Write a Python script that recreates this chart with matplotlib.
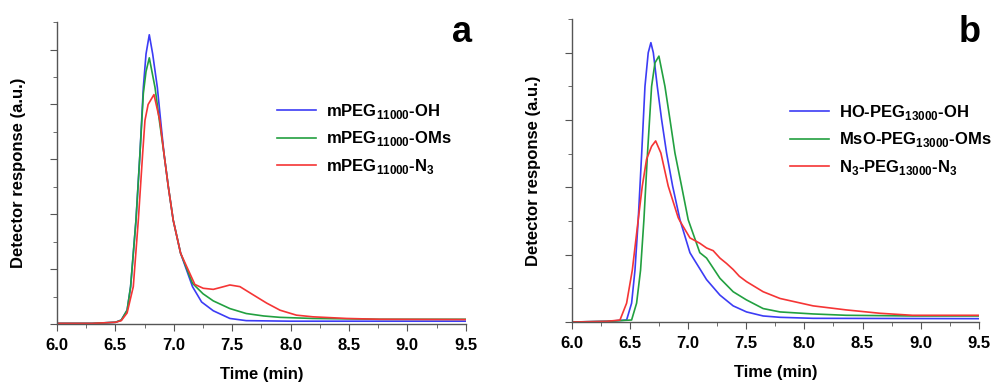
import numpy as np
import matplotlib.pyplot as plt
from matplotlib.ticker import MultipleLocator

# panel a : mPEG11000 series (time in min, response in a.u.)
t_a_oh = [6.0, 6.3, 6.5, 6.55, 6.6, 6.63, 6.676, 6.71, 6.739, 6.762, 6.79, 6.819, 6.859, 6.887,
          6.916, 6.953, 6.995, 7.058, 7.16, 7.238, 7.338, 7.48, 7.62, 8.0, 9.0, 9.5]
y_a_oh = [0.01, 0.01, 0.03, 0.07, 0.25, 0.68, 1.89, 3.1, 4.31, 4.92, 5.27, 4.92, 4.31, 3.71,
          3.1, 2.5, 1.89, 1.29, 0.68, 0.4, 0.24, 0.1, 0.06, 0.05, 0.05, 0.05]
t_a_oms = [6.0, 6.3, 6.5, 6.55, 6.6, 6.63, 6.676, 6.71, 6.739, 6.762, 6.79, 6.839, 6.876,
           6.916, 6.953, 6.995, 7.058, 7.16, 7.25, 7.338, 7.48, 7.62, 7.77, 7.91, 8.19, 8.76,
           9.5]
y_a_oms = [0.01, 0.01, 0.03, 0.07, 0.25, 0.68, 1.89, 3.1, 4.2, 4.6, 4.85, 4.31, 3.71,
           3.1, 2.5, 1.89, 1.29, 0.74, 0.55, 0.42, 0.28, 0.19, 0.145, 0.12, 0.1, 0.085,
           0.085]
t_a_n3 = [6.0, 6.3, 6.5, 6.55, 6.6, 6.653, 6.696, 6.733, 6.753, 6.78, 6.83, 6.88, 6.916,
          6.953, 6.995, 7.058, 7.18, 7.252, 7.338, 7.41, 7.48, 7.566, 7.68, 7.795, 7.91,
          8.05, 8.19, 8.48, 8.76, 9.5]
y_a_n3 = [0.01, 0.01, 0.03, 0.06, 0.2, 0.68, 1.89, 3.1, 3.71, 4.0, 4.18, 3.71, 3.1,
          2.5, 1.89, 1.29, 0.72, 0.65, 0.63, 0.67, 0.71, 0.68, 0.53, 0.38, 0.25,
          0.16, 0.13, 0.1, 0.085, 0.08]

# panel b : PEG13000 series
t_b_oh = [6.0, 6.3, 6.47, 6.513, 6.542, 6.57, 6.6, 6.628, 6.656, 6.679, 6.70, 6.734, 6.771,
          6.814, 6.866, 6.929, 7.015, 7.043, 7.158, 7.273, 7.387, 7.502, 7.645, 7.79, 8.075,
          9.5]
y_b_oh = [0.0, 0.01, 0.03, 0.28, 0.77, 1.52, 2.51, 3.5, 4.0, 4.15, 4.0, 3.5, 3.01,
          2.51, 2.02, 1.52, 1.03, 0.95, 0.63, 0.4, 0.24, 0.15, 0.09, 0.07, 0.055, 0.05]
t_b_oms = [6.0, 6.3, 6.513, 6.556, 6.59, 6.619, 6.65, 6.685, 6.714, 6.748, 6.8, 6.843, 6.886,
           6.943, 7.0, 7.1, 7.158, 7.273, 7.387, 7.5, 7.645, 7.79, 8.075, 8.36, 8.93, 9.5]
y_b_oms = [0.0, 0.01, 0.03, 0.28, 0.77, 1.52, 2.51, 3.5, 3.85, 3.95, 3.5, 3.01, 2.51,
           2.02, 1.52, 1.03, 0.95, 0.65, 0.45, 0.33, 0.2, 0.15, 0.12, 0.1, 0.09, 0.09]
t_b_n3 = [6.0, 6.3, 6.413, 6.47, 6.519, 6.57, 6.605, 6.642, 6.685, 6.72, 6.765, 6.828, 6.914,
          6.929, 7.015, 7.1, 7.158, 7.215, 7.273, 7.33, 7.387, 7.44, 7.502, 7.645, 7.79,
          8.075, 8.36, 8.65, 8.93, 9.5]
y_b_n3 = [0.0, 0.01, 0.03, 0.28, 0.77, 1.52, 2.02, 2.42, 2.61, 2.69, 2.51, 2.02, 1.55,
          1.5, 1.25, 1.17, 1.1, 1.06, 0.95, 0.87, 0.78, 0.68, 0.6, 0.45, 0.35,
          0.24, 0.18, 0.13, 0.1, 0.1]

labels_a = ['mPEG$_{\\mathbf{11000}}$-OH', 'mPEG$_{\\mathbf{11000}}$-OMs',
            'mPEG$_{\\mathbf{11000}}$-N$_{\\mathbf{3}}$']
labels_b = ['HO-PEG$_{\\mathbf{13000}}$-OH', 'MsO-PEG$_{\\mathbf{13000}}$-OMs',
            'N$_{\\mathbf{3}}$-PEG$_{\\mathbf{13000}}$-N$_{\\mathbf{3}}$']
colors = ['#3c3cf5', '#22a040', '#f53535']

plt.rcParams['font.family'] = ['Liberation Sans', 'DejaVu Sans']
plt.rcParams['font.weight'] = 'bold'
plt.rcParams['mathtext.fontset'] = 'custom'
plt.rcParams['mathtext.bf'] = 'Liberation Sans:bold'
plt.rcParams['mathtext.rm'] = 'Liberation Sans:bold'

fig = plt.figure(figsize=(9.92, 3.82), dpi=100)
ax_a = fig.add_axes([0.0575, 0.152, 0.412, 0.790])
ax_b = fig.add_axes([0.5766, 0.157, 0.410, 0.793])

panels = [
    (ax_a, [(t_a_oh, y_a_oh), (t_a_oms, y_a_oms), (t_a_n3, y_a_n3)], labels_a, 5.5,
     'a', (1.015, 0.934), (0.538, 0.735)),
    (ax_b, [(t_b_oh, y_b_oh), (t_b_oms, y_b_oms), (t_b_n3, y_b_n3)], labels_b, 4.5,
     'b', (1.005, 0.924), (0.536, 0.723)),
]

for ax, series, labels, ytop, letter, tpos, lpos in panels:
    for (t, y), lab, c in zip(series, labels, colors):
        ax.plot(t, y, color=c, lw=1.2, label=lab)
    ax.set_xlim(6.0, 9.5)
    ax.set_ylim(0, ytop)
    ax.xaxis.set_major_locator(MultipleLocator(0.5))
    ax.xaxis.set_minor_locator(MultipleLocator(0.25))
    ax.yaxis.set_major_locator(MultipleLocator(1))
    ax.yaxis.set_minor_locator(MultipleLocator(0.5))
    ax.set_yticklabels([])
    for s in ['top', 'right']:
        ax.spines[s].set_visible(False)
    for s in ['left', 'bottom']:
        ax.spines[s].set_color('#555555')
        ax.spines[s].set_linewidth(1.0)
    ax.tick_params(which='both', direction='out', color='#555555', labelsize=12, pad=5)
    ax.tick_params(which='major', length=5)
    ax.tick_params(which='minor', length=3)
    for lb in ax.get_xticklabels():
        lb.set_fontweight('bold')
    ax.set_xlabel('Time (min)', fontsize=12, fontweight='bold', labelpad=10)
    ax.set_ylabel('Detector response (a.u.)', fontsize=12, fontweight='bold', labelpad=12)
    ax.text(tpos[0], tpos[1], letter, transform=ax.transAxes, fontsize=26, fontweight='bold',
            ha='right', va='baseline')
    ax.legend(loc='upper left', bbox_to_anchor=lpos, frameon=False, fontsize=12,
              handlelength=2.35, handletextpad=0.6, labelspacing=0.5,
              borderpad=0, borderaxespad=0)

fig.savefig('out.png', dpi=100)
